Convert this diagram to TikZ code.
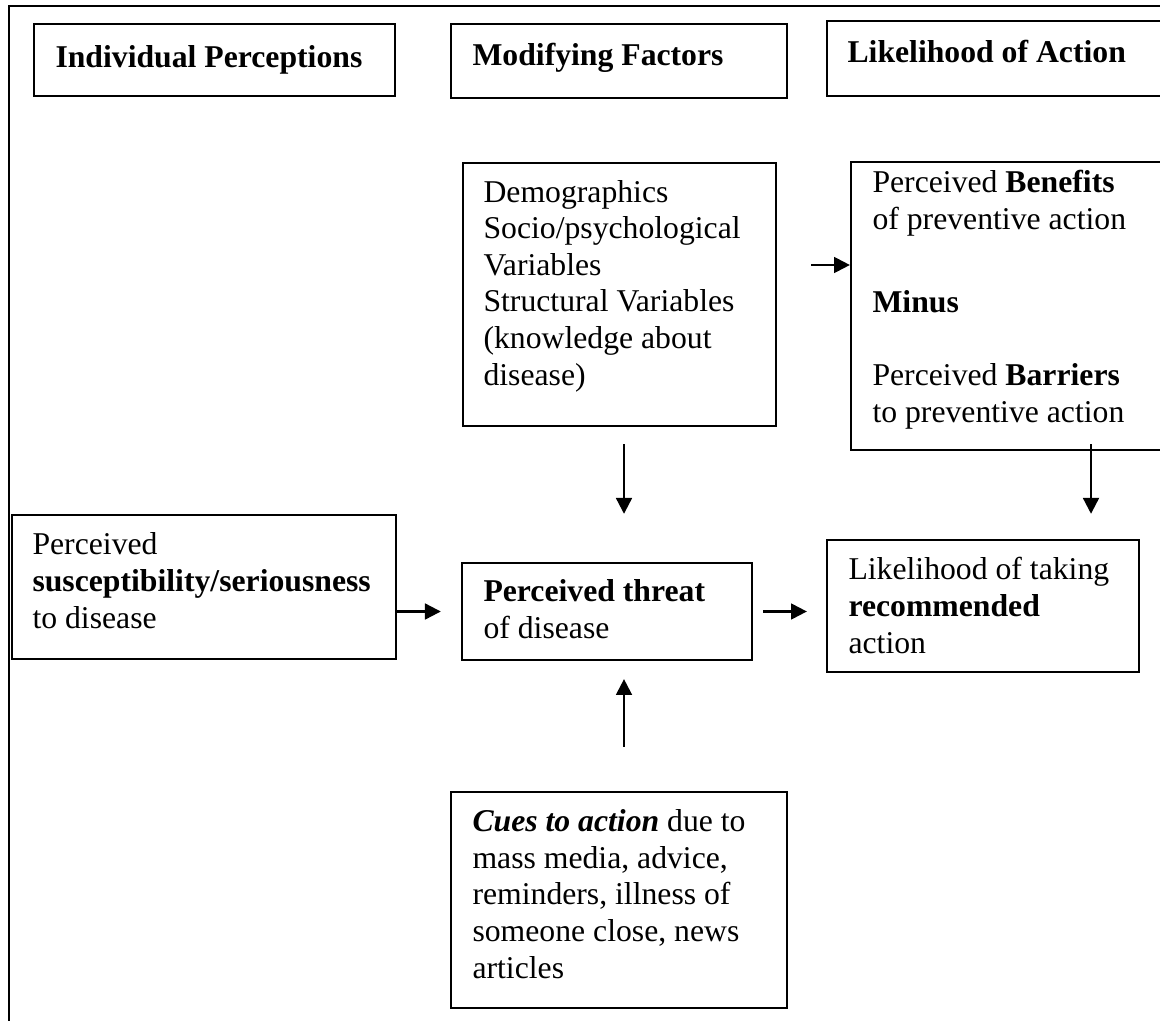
\documentclass[tikz,border=0pt]{standalone}
\usepackage{fontspec}
\setmainfont{Liberation Serif}
\usetikzlibrary{fit,arrows.meta}

\begin{document}
\begin{tikzpicture}[x=0.3785pt,y=-0.3785pt,
    box/.style={draw, line width=0.85pt, inner sep=0pt},
    txt/.style={anchor=base west, inner sep=0pt, align=left, font=\fontsize{12}{13.85}\selectfont},
    arr/.style={line width=0.85pt, -{Triangle[length=6pt,width=6pt]}}]
    \useasboundingbox (0,0) rectangle (1160,1020);
    \clip (0,0) rectangle (1160,1020);

    %Straight Lines: frame
    \draw [line width=0.85pt] (9,1030) -- (9,6) -- (1175,6);

    %Shape: Rectangle (headings)
    \node (indiv) [box, fit={(34,24) (395,96)}] {};
    \node (modif) [box, fit={(451,24) (787,98)}] {};
    \node (likhd) [box, fit={(827,21) (1175,96)}] {};
    %Shape: Rectangle
    \node (demog) [box, fit={(463,163) (776,426)}] {};
    \node (benef) [box, fit={(851,162) (1175,450)}] {};
    \node (suscp) [box, fit={(12,515) (396,659)}] {};
    \node (threat) [box, fit={(462,563) (752,660)}] {};
    \node (action) [box, fit={(827,540) (1139,672)}] {};
    \node (cues) [box, fit={(451,792) (787,1008)}] {};

    % Text Node (anchored at the last line)
    \node (indivtxt) [txt] at (55,68) {\textbf{Individual Perceptions}};
    % Text Node
    \node (modiftxt) [txt] at (472,66) {\textbf{Modifying Factors}};
    % Text Node
    \node (likhdtxt) [txt] at (847,63) {\textbf{Likelihood of Action}};
    % Text Node
    \node (demogtxt) [txt] at (483,385) {Demographics\\Socio/psychological\\Variables\\Structural Variables\\(knowledge about\\disease)};
    % Text Node
    \node (beneftxt) [txt] at (872,422) {Perceived \textbf{Benefits}\\of preventive action\\[17.6pt]\textbf{Minus}\\[13.8pt]Perceived \textbf{Barriers}\\to preventive action};
    % Text Node
    \node (suscptxt) [txt] at (32,628) {Perceived\\\textbf{susceptibility/seriousness}\\to disease};
    % Text Node
    \node (threattxt) [txt] at (483,638) {\textbf{Perceived threat}\\of disease};
    % Text Node
    \node (actiontxt) [txt] at (848,653) {Likelihood of taking\\\textbf{recommended}\\action};
    % Text Node
    \node (cuestxt) [txt] at (472,978) {\textbf{\textit{Cues to action}} due to\\mass media, advice,\\reminders, illness of\\someone close, news\\articles};

    \coordinate (midx) at (624,0);
    \coordinate (benx) at (1091,0);
    \coordinate (beny) at (0,265);

    %Straight Lines (arrows)
    \draw [arr, shorten >=7.6pt] (suscp.east |- threat.west) -- (threat.west);
    \draw [arr, shorten <=3.8pt, shorten >=7.2pt] (threat.east) -- (threat.east -| action.west);
    \draw [arr, shorten <=6.4pt, shorten >=18.2pt] (demog.south -| midx) -- (threat.north -| midx);
    \draw [arr, shorten <=16.7pt, shorten >=6.8pt] (cues.north -| midx) -- (threat.south -| midx);
    \draw [arr, shorten <=12.9pt] (demog.east |- beny) -- (benef.west |- beny);
    \draw [arr, shorten <=-2.6pt, shorten >=9.5pt] (benef.south -| benx) -- (action.north -| benx);

\end{tikzpicture}
\end{document}
